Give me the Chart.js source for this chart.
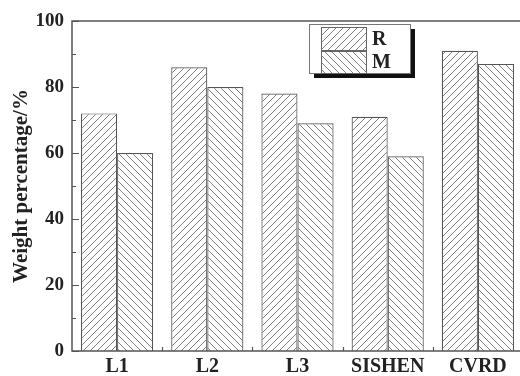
<!DOCTYPE html>
<html>
<head>
<meta charset="utf-8">
<script src="https://cdn.jsdelivr.net/npm/chart.js@4/dist/chart.umd.min.js"></script>
<style>
html,body{margin:0;padding:0;background:#fff;overflow:hidden;}
canvas{display:block;}
</style>
</head>
<body>
<canvas id="c" width="524" height="376"></canvas>
<script>
const categories = ['L1', 'L2', 'L3', 'SISHEN', 'CVRD'];
const rValues = [72, 86, 78, 71, 91];
const mValues = [60, 80, 69, 59, 87];
const seriesLabels = ['R', 'M'];
const yMin = 0, yMax = 100, yStep = 20, yMinorStep = 10;
const yTitle = 'Weight percentage/%';

const FONT = '"Liberation Serif", "Times New Roman", serif';
const AXIS = '#555';
const TEXT = '#222';

function hatch(dir) {
  const s = 7;
  const c = document.createElement('canvas');
  c.width = s; c.height = s;
  const g = c.getContext('2d');
  g.fillStyle = '#fff';
  g.fillRect(0, 0, s, s);
  g.strokeStyle = '#707070';
  g.lineWidth = 0.9;
  g.beginPath();
  if (dir === '/') {
    g.moveTo(-1, 1); g.lineTo(1, -1);
    g.moveTo(0, s); g.lineTo(s, 0);
    g.moveTo(s - 1, s + 1); g.lineTo(s + 1, s - 1);
  } else {
    g.moveTo(-1, s - 1); g.lineTo(1, s + 1);
    g.moveTo(0, 0); g.lineTo(s, s);
    g.moveTo(s - 1, -1); g.lineTo(s + 1, 1);
  }
  g.stroke();
  return g.createPattern(c, 'repeat');
}

const patR = hatch('/');
const patM = hatch('\\');

const framePlugin = {
  id: 'frame',
  afterDatasetsDraw(chart) {
    const { ctx, chartArea: a, scales: { x, y } } = chart;
    ctx.save();
    ctx.strokeStyle = AXIS;
    ctx.lineWidth = 1.5;
    ctx.strokeRect(a.left, a.top, a.right - a.left, a.bottom - a.top);
    ctx.lineWidth = 1.2;
    ctx.beginPath();
    for (let v = yMin; v <= yMax; v += yMinorStep) {
      const py = Math.round(y.getPixelForValue(v)) + 0.5;
      const len = (v % yStep === 0) ? 7 : 4;
      ctx.moveTo(a.left, py); ctx.lineTo(a.left + len, py);
    }
    for (let i = 0; i < categories.length - 1; i++) {
      const px = Math.round((x.getPixelForValue(i) + x.getPixelForValue(i + 1)) / 2) + 0.5;
      ctx.moveTo(px, a.bottom); ctx.lineTo(px, a.bottom - 4);
    }
    ctx.stroke();
    ctx.restore();
  }
};

const legendPlugin = {
  id: 'boxLegend',
  afterDraw(chart) {
    const { ctx } = chart;
    const bx = 309, by = 24, bw = 101, bh = 49;
    ctx.save();
    ctx.fillStyle = '#111';
    ctx.fillRect(bx + 5, by + 5, bw, bh);
    ctx.fillStyle = '#fff';
    ctx.fillRect(bx, by, bw, bh);
    ctx.strokeStyle = '#777';
    ctx.lineWidth = 1;
    ctx.strokeRect(bx + 0.5, by + 0.5, bw, bh);
    const rows = [[27, 23], [51, 22]];
    chart.data.datasets.forEach((ds, i) => {
      const [ry, rh] = rows[i];
      ctx.fillStyle = ds.backgroundColor;
      ctx.fillRect(321, ry, 45, rh);
      ctx.strokeStyle = '#666';
      ctx.lineWidth = 1;
      ctx.strokeRect(321.5, ry + 0.5, 45, rh);
      ctx.fillStyle = TEXT;
      ctx.font = 'bold 20px ' + FONT;
      ctx.textBaseline = 'middle';
      ctx.textAlign = 'left';
      ctx.fillText(ds.label, 372, ry + rh / 2 + 1);
    });
    ctx.restore();
  }
};

new Chart(document.getElementById('c'), {
  type: 'bar',
  data: {
    labels: categories,
    datasets: [
      { label: seriesLabels[0], data: rValues, backgroundColor: patR, borderColor: '#555', borderWidth: 1.2 },
      { label: seriesLabels[1], data: mValues, backgroundColor: patM, borderColor: '#555', borderWidth: 1.2 }
    ]
  },
  options: {
    responsive: false,
    animation: false,
    devicePixelRatio: 1,
    layout: { padding: { top: 21, right: 1, left: 0, bottom: 0 } },
    datasets: { bar: { categoryPercentage: 0.8, barPercentage: 1.0 } },
    plugins: { legend: { display: false }, tooltip: { enabled: false } },
    scales: {
      x: {
        grid: { display: false, drawTicks: false },
        border: { display: false },
        ticks: { color: TEXT, font: { family: FONT, size: 20, weight: 'bold' }, padding: 4, maxRotation: 0 },
        afterFit(s) { s.height = 25; }
      },
      y: {
        min: yMin, max: yMax,
        grid: { display: false, drawTicks: false },
        border: { display: false },
        ticks: { stepSize: yStep, color: TEXT, font: { family: FONT, size: 19, weight: 'bold' }, padding: 8 },
        title: { display: true, text: yTitle, color: TEXT, font: { family: FONT, size: 21, weight: 'bold' }, padding: { top: 9, bottom: 0 } },
        afterFit(s) { s.width = 72; }
      }
    }
  },
  plugins: [framePlugin, legendPlugin]
});
</script>
</body>
</html>
